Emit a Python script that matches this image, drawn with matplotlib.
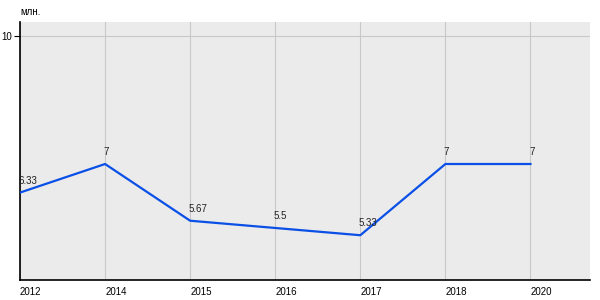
import matplotlib
matplotlib.use("Agg")
import matplotlib.pyplot as plt

plt.rcParams['font.family'] = ['Liberation Sans', 'DejaVu Sans']

years = ['2012', '2014', '2015', '2016', '2017', '2018', '2020']
values = [6.33, 7, 5.67, 5.5, 5.33, 7, 7]
labels = ['6.33', '7', '5.67', '5.5', '5.33', '7', '7']
unit = 'млн.'

fig = plt.figure(figsize=(6, 3), dpi=100)
ax = fig.add_axes([20 / 600, 20 / 300, 570 / 600, 258 / 300])
ax.set_facecolor('#ebebeb')

x = list(range(len(years)))
ax.plot(x, values, color='#0a4fe6', lw=1.6, zorder=3)

for xi, v, lab in zip(x, values, labels):
    ax.annotate(lab, (xi, v), xytext=(-1, 5), textcoords='offset points',
                fontsize=7, ha='left', va='bottom', color='#222222', zorder=4)

ax.set_xlim(0, 6.7)
ax.set_ylim(4.28, 10.33)
ax.set_yticks([10])
ax.set_yticklabels(['10'], fontsize=7)
ax.set_xticks(x)
ax.set_xticklabels(years, fontsize=7, ha='left')
ax.tick_params(axis='x', length=0, pad=5)
ax.tick_params(axis='y', length=4, width=0.8, pad=2)

ax.grid(True, color='#c8c8c8', lw=0.8)
ax.set_axisbelow(True)
for s in ['top', 'right']:
    ax.spines[s].set_visible(False)
for s in ['left', 'bottom']:
    ax.spines[s].set_color('black')
    ax.spines[s].set_linewidth(1.2)

fig.text(20 / 600, 1 - 12 / 300, unit, fontsize=7, ha='left', va='center')

fig.savefig('out.png', dpi=100, facecolor='white')
